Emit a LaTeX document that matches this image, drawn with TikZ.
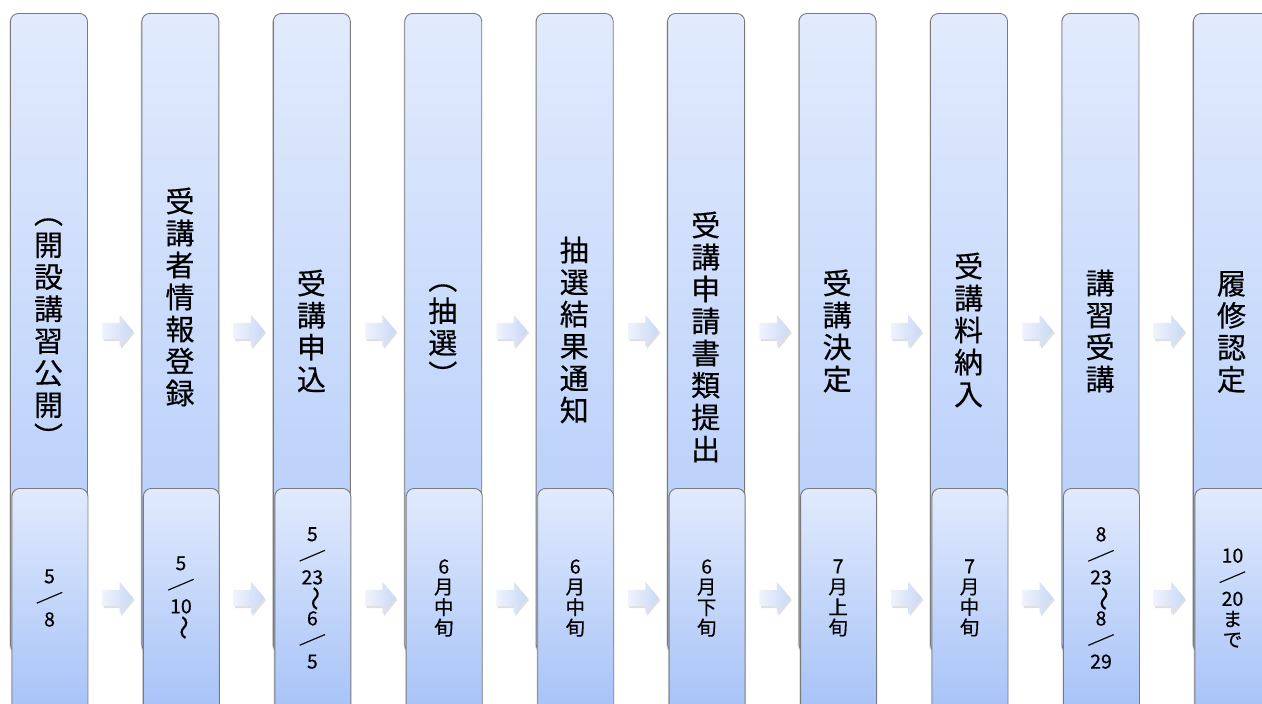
\documentclass[tikz,border=0pt]{standalone}
\usepackage{fontspec}
\usepackage{graphicx}
\newfontfamily\jp[FakeBold=0.4]{Noto Sans CJK JP}
\usetikzlibrary{shapes.arrows,shadows}
\definecolor{boxtop}{HTML}{E2EBFD}
\definecolor{boxbot}{HTML}{B0C9F9}
\definecolor{lowtop}{HTML}{E1EAFD}
\definecolor{lowbot}{HTML}{A6C2F7}
\definecolor{edge}{HTML}{7A7A7A}
\definecolor{arrl}{HTML}{EFF3FD}
\definecolor{arrr}{HTML}{CAD8F5}
\newcommand{\wv}{\scalebox{1.25}{\rotatebox[origin=c]{-90}{〜}}}
\newcommand{\sls}{\scalebox{1.1}{\rotatebox[origin=c]{-22}{／}}}
\begin{document}
\begin{tikzpicture}[x=1pt,y=-1pt,
  colbox/.style={draw=edge, line width=0.9pt, rounded corners=8pt,
    top color=boxtop, bottom color=boxbot, minimum width=77pt, minimum height=639pt,
    anchor=north west, inner sep=0pt,
    drop shadow={shadow xshift=-1.2pt, shadow yshift=-1pt, opacity=0.3}},
  lowbox/.style={draw=edge, line width=0.9pt, rounded corners=8pt,
    top color=lowtop, bottom color=lowbot, minimum width=76pt, minimum height=225pt,
    anchor=north west, inner sep=0pt,
    drop shadow={shadow xshift=-1.2pt, shadow yshift=-1pt, opacity=0.3}},
  barrow/.style={single arrow, draw=none, left color=arrl, right color=arrr,
    inner xsep=0pt, inner ysep=8pt, minimum height=31pt,
    single arrow head extend=8pt, single arrow tip angle=100,
    drop shadow={shadow xshift=1.5pt, shadow yshift=-2pt, opacity=0.25}},
  toptext/.style={font=\jp\fontsize{29pt}{32pt}\selectfont, align=center, inner sep=0pt},
  lowtext/.style={font=\jp\fontsize{19.5pt}{20.5pt}\selectfont, align=center, inner sep=0pt}
]
\useasboundingbox (0,0) rectangle (1262,704);
\clip (0,0) rectangle (1262,704);
\foreach \i in {0,...,9} {
  \pgfmathsetmacro\xl{10+131.44*\i}
  \node[colbox] (t\i) at (\xl,13) {};
}
\foreach \i in {0,...,9} {
  \pgfmathsetmacro\xl{11.5+131.44*\i}
  \node[lowbox] (d\i) at (\xl,488) {};
}
\foreach \i in {0,...,8} {
  \pgfmathsetmacro\xa{10+131.44*\i+104.2}
  \node[barrow] (ua\i) at (\xa,331) {};
  \node[barrow] (la\i) at (\xa,598) {};
}
% top labels
\foreach \i/\dy/\txt in {
  0/333/{︵\\開\\設\\講\\習\\公\\開\\︶},
  1/297/{受\\講\\者\\情\\報\\登\\録},
  2/331/{受\\講\\申\\込},
  3/335/{︵\\抽\\選\\︶},
  4/330/{抽\\選\\結\\果\\通\\知},
  5/337/{受\\講\\申\\請\\書\\類\\提\\出},
  6/331/{受\\講\\決\\定},
  7/330/{受\\講\\料\\納\\入},
  8/331/{講\\習\\受\\講},
  9/332/{履\\修\\認\\定}} {
  \pgfmathsetmacro\xc{48.5+131.44*\i}
  \node[toptext] (tl\i) at (\xc,\dy) {\txt};
}
% bottom labels
\foreach \i/\txt in {
  0/{5\\\sls\\8},
  1/{5\\\sls\\10\\\wv},
  2/{5\\\sls\\23\\\wv\\6\\\sls\\5},
  3/{6\\月\\中\\旬},
  4/{6\\月\\中\\旬},
  5/{6\\月\\下\\旬},
  6/{7\\月\\上\\旬},
  7/{7\\月\\中\\旬},
  8/{8\\\sls\\23\\\wv\\8\\\sls\\29},
  9/{10\\\sls\\20\\ま\\で}} {
  \pgfmathsetmacro\xc{49.5+131.44*\i}
  \node[lowtext] (dl\i) at (\xc,598) {\txt};
}
\end{tikzpicture}
\end{document}
